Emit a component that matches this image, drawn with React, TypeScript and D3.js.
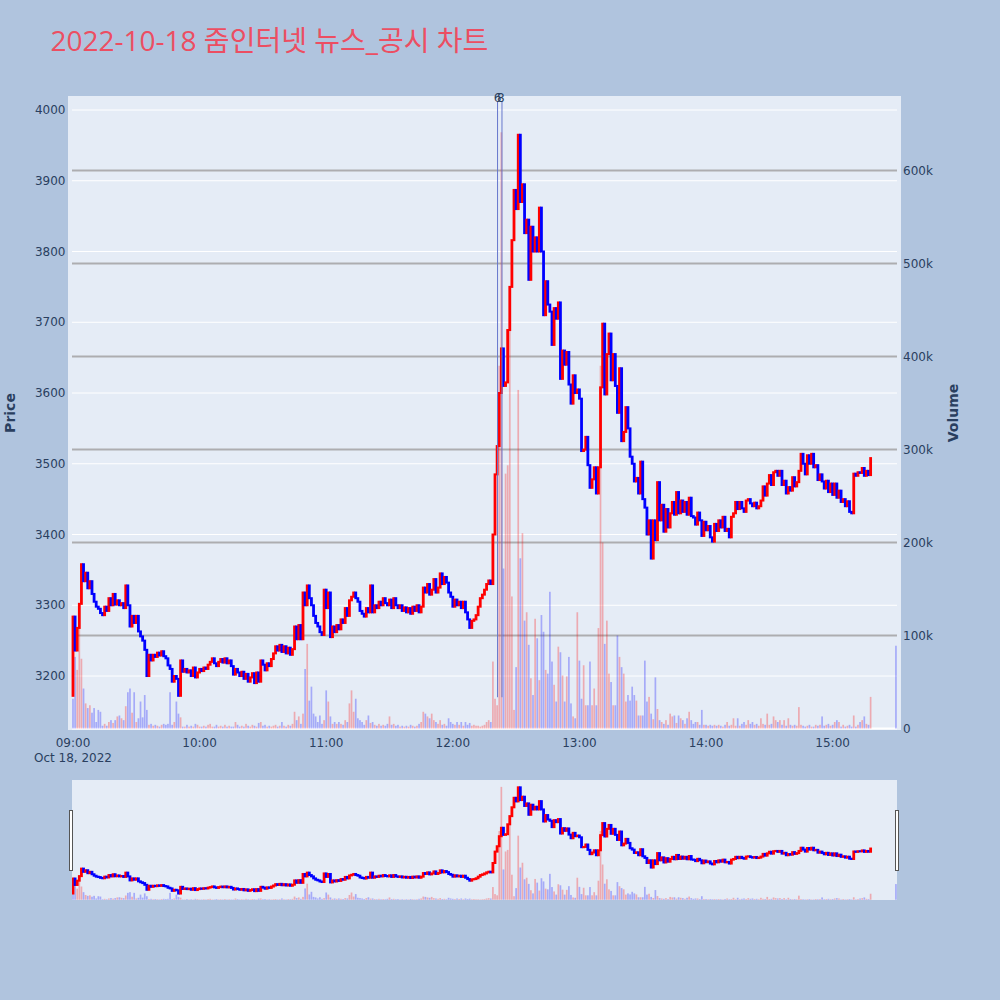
import * as d3 from 'd3';
import { useEffect, useRef } from 'react';

// 1-minute closes from 09:00 (index = minutes after 09:00); open of a candle = previous close
const openingPrice = 3172;
const previousDayClose = 3290;
const closePrices = [
  3284, 3236, 3268, 3302, 3358, 3334, 3346, 3324, 3334, 3316,
  3305, 3298, 3295, 3289, 3286, 3298, 3292, 3310, 3300, 3316,
  3301, 3307, 3300, 3303, 3296, 3328, 3300, 3270, 3285, 3275,
  3285, 3263, 3256, 3250, 3237, 3200, 3230, 3222, 3230, 3227,
  3233, 3229, 3235, 3228, 3225, 3215, 3210, 3192, 3200, 3196,
  3172, 3222, 3206, 3210, 3205, 3208, 3200, 3212, 3198, 3205,
  3210, 3207, 3212, 3210, 3216, 3220, 3225, 3218, 3214, 3220,
  3224, 3219, 3225, 3218, 3222, 3214, 3202, 3210, 3205, 3200,
  3206, 3196, 3203, 3192, 3198, 3204, 3190, 3205, 3192, 3222,
  3216, 3208, 3218, 3214, 3224, 3232, 3242, 3236, 3244, 3234,
  3242, 3232, 3240, 3230, 3238, 3270, 3252, 3272, 3252, 3318,
  3300, 3328, 3310, 3300, 3285, 3275, 3270, 3262, 3258, 3322,
  3296, 3318, 3255, 3270, 3262, 3272, 3266, 3280, 3275, 3296,
  3285, 3307, 3312, 3318, 3310, 3305, 3292, 3288, 3284, 3296,
  3290, 3328, 3290, 3300, 3296, 3305, 3300, 3310, 3303, 3300,
  3308, 3296, 3310, 3300, 3296, 3300, 3292, 3297, 3290, 3296,
  3288, 3298, 3292, 3300, 3290, 3298, 3325, 3318, 3330, 3315,
  3322, 3337, 3318, 3325, 3345, 3330, 3340, 3332, 3318, 3312,
  3298, 3308, 3300, 3305, 3296, 3305, 3290, 3280, 3268, 3278,
  3280, 3286, 3298, 3310, 3315, 3322, 3330, 3335, 3330, 3400,
  3485, 3525, 3600, 3663, 3610, 3615, 3689, 3750, 3816, 3887,
  3860, 3965, 3870, 3895, 3826, 3845, 3760, 3835, 3800, 3820,
  3800, 3862, 3800, 3710, 3758, 3725, 3715, 3668, 3720, 3705,
  3728, 3620, 3660, 3640, 3658, 3612, 3585, 3625, 3600, 3605,
  3592, 3518, 3520, 3538, 3498, 3466, 3478, 3495, 3458, 3495,
  3608, 3698, 3598, 3655, 3684, 3618, 3655, 3610, 3572, 3635,
  3532, 3545, 3580, 3550, 3510, 3500, 3475, 3480, 3458, 3503,
  3450, 3438, 3400, 3420, 3366, 3420, 3392, 3474, 3420, 3442,
  3404, 3436, 3410, 3430, 3446, 3428, 3460, 3430, 3448, 3432,
  3446, 3428, 3452, 3426, 3424, 3414, 3431, 3420, 3398, 3418,
  3406, 3412, 3396, 3390, 3415, 3405, 3420, 3410, 3425, 3405,
  3408, 3396, 3425, 3430, 3446, 3436, 3446, 3437, 3432, 3448,
  3450, 3444, 3440, 3445, 3437, 3440, 3448, 3468, 3455, 3472,
  3484, 3470, 3488, 3490, 3483, 3490, 3470, 3476, 3458, 3467,
  3462, 3481, 3468, 3474, 3490, 3514, 3500, 3485, 3512, 3500,
  3514, 3495, 3498, 3477, 3485, 3475, 3465, 3476, 3460, 3472,
  3456, 3472, 3452, 3462, 3446, 3450, 3440, 3447, 3432, 3430,
  3486, 3483, 3488, 3487, 3494, 3483, 3490, 3484, 3508,
];
// volume per minute, thousands of shares
const volumesK = [
  32, 77, 63, 108, 75, 43, 27, 22, 25, 17,
  22, 7, 20, 18, 3, 5, 3, 7, 9, 6,
  9, 13, 14, 11, 9, 24, 39, 43, 17, 39,
  7, 11, 29, 12, 36, 20, 4, 5, 3, 4,
  3, 2, 4, 5, 4, 5, 39, 4, 7, 29,
  16, 12, 2, 2, 4, 2, 3, 2, 5, 4,
  2, 2, 3, 2, 4, 5, 2, 2, 4, 2,
  3, 2, 4, 2, 3, 2, 2, 7, 4, 2,
  3, 2, 5, 3, 2, 4, 3, 2, 6, 7,
  3, 4, 2, 3, 2, 3, 4, 2, 3, 7,
  3, 2, 4, 3, 5, 18, 9, 13, 5, 16,
  64, 91, 30, 45, 16, 13, 7, 14, 5, 9,
  41, 29, 13, 5, 7, 5, 7, 5, 4, 9,
  7, 27, 41, 18, 32, 11, 9, 7, 4, 9,
  14, 6, 7, 4, 3, 5, 3, 4, 3, 5,
  13, 4, 5, 3, 4, 2, 3, 2, 3, 2,
  4, 3, 2, 3, 5, 7, 18, 16, 13, 11,
  16, 9, 7, 5, 9, 4, 5, 3, 11, 7,
  5, 4, 7, 4, 7, 3, 7, 4, 6, 3,
  4, 3, 3, 2, 3, 4, 7, 9, 7, 72,
  32, 25, 390, 641, 172, 274, 283, 441, 142, 20,
  66, 364, 183, 210, 116, 125, 90, 54, 36, 118,
  97, 52, 122, 104, 63, 59, 147, 72, 47, 29,
  88, 82, 57, 29, 56, 77, 27, 13, 11, 125,
  73, 32, 68, 25, 25, 72, 25, 43, 25, 108,
  390, 200, 91, 116, 59, 50, 25, 25, 100, 77,
  66, 59, 29, 36, 30, 45, 36, 30, 14, 14,
  14, 73, 29, 34, 16, 10, 55, 21, 9, 7,
  5, 9, 4, 16, 13, 14, 6, 14, 11, 9,
  5, 11, 18, 9, 5, 7, 7, 4, 20, 4,
  4, 3, 4, 3, 4, 3, 4, 3, 2, 4,
  7, 3, 4, 11, 3, 11, 3, 5, 7, 4,
  9, 5, 7, 4, 5, 3, 11, 5, 4, 16,
  4, 5, 13, 9, 7, 9, 4, 9, 3, 11,
  4, 3, 4, 3, 23, 4, 3, 2, 3, 4,
  2, 2, 4, 3, 4, 13, 3, 4, 5, 3,
  4, 7, 9, 7, 2, 4, 2, 3, 4, 2,
  14, 2, 4, 7, 9, 13, 5, 4, 34,
];
// 15:30 closing auction
const auctionMinute = 390;
const auctionPrice = 3496;
const auctionVolumeK = 89;

// news / disclosure markers (minutes after 09:00) and their labels
const eventMinutes = [201.2, 203.3];
const eventLabels = ['6', '8'];

const priceTicks = [3200, 3300, 3400, 3500, 3600, 3700, 3800, 3900, 4000];
const volumeTicks = [0, 100000, 200000, 300000, 400000, 500000, 600000];
const timeTickMinutes = [0, 60, 120, 180, 240, 300, 360];
const timeTickLabels = ['09:00', '10:00', '11:00', '12:00', '13:00', '14:00', '15:00'];
const dateLabel = 'Oct 18, 2022';
const titleText = '2022-10-18 줌인터넷 뉴스_공시 차트';

const UP = '#ff0000';
const DOWN = '#0000ff';
const TICK_FONT = '"DejaVu Sans", Verdana, sans-serif';
const TEXT = '#2a3f5f';

export default function App() {
  const ref = useRef<SVGSVGElement>(null);

  useEffect(() => {
    const svg = d3.select(ref.current);
    svg.selectAll('*').remove();

    const candles = closePrices.map((c, i) => ({
      minute: i,
      open: i === 0 ? openingPrice : closePrices[i - 1],
      close: c,
      prev: i === 0 ? previousDayClose : closePrices[i - 1],
      volume: volumesK[i] * 1000,
    }));
    candles.push({
      minute: auctionMinute,
      open: auctionPrice,
      close: auctionPrice,
      prev: closePrices[closePrices.length - 1],
      volume: auctionVolumeK * 1000,
    });

    const x = d3.scaleLinear().domain([-0.47, 390.5]).range([72, 897]);
    const yPrice = d3.scaleLinear().domain([3123.7, 4019.8]).range([730, 96]);
    const yVol = d3.scaleLinear().domain([-1600, 680000]).range([730, 96]);
    const sPrice = d3.scaleLinear().domain([3123.7, 4019.8]).range([900, 780]);
    const sVol = d3.scaleLinear().domain([-1600, 680000]).range([900, 780]);

    svg.append('rect').attr('width', 1000).attr('height', 1000).attr('fill', '#b0c4de');

    svg.append('text')
      .attr('x', 50.5).attr('y', 50.5)
      .attr('font-family', '"Open Sans", "Noto Sans CJK KR", sans-serif')
      .attr('font-size', 28)
      .attr('fill', '#ec4e62')
      .text(titleText);

    // main plot
    svg.append('rect').attr('x', 68).attr('y', 96).attr('width', 833).attr('height', 634).attr('fill', '#e5ecf6');

    const grid = svg.append('g');
    grid.selectAll('.pgrid').data(priceTicks).join('line')
      .attr('x1', 72).attr('x2', 897)
      .attr('y1', (d) => yPrice(d)).attr('y2', (d) => yPrice(d))
      .attr('stroke', '#ffffff').attr('stroke-width', 1);
    grid.selectAll('.vgrid').data(volumeTicks).join('line')
      .attr('x1', 72).attr('x2', 897)
      .attr('y1', (d) => yVol(d)).attr('y2', (d) => yVol(d))
      .attr('stroke', (d) => (d === 0 ? '#ffffff' : '#adadb0'))
      .attr('stroke-width', 2);

    const drawSeries = (g: any, yP: any, yV: any) => {
      g.selectAll('rect.vol').data(candles).join('rect')
        .attr('class', 'vol')
        .attr('x', (d: any) => x(d.minute) - 0.85)
        .attr('width', 1.7)
        .attr('y', (d: any) => yV(d.volume))
        .attr('height', (d: any) => yV(0) - yV(d.volume))
        .attr('fill', (d: any) => (d.close >= d.prev ? UP : DOWN))
        .attr('fill-opacity', 0.28);
      g.selectAll('rect.candle').data(candles).join('rect')
        .attr('class', 'candle')
        .attr('x', (d: any) => x(d.minute) - 0.4)
        .attr('width', 0.8)
        .attr('y', (d: any) => yP(Math.max(d.open, d.close)))
        .attr('height', (d: any) => Math.abs(yP(d.open) - yP(d.close)))
        .attr('fill', (d: any) => (d.close >= d.open ? UP : DOWN))
        .attr('stroke', (d: any) => (d.close >= d.open ? UP : DOWN))
        .attr('stroke-width', 2);
    };

    drawSeries(svg.append('g'), yPrice, yVol);

    // event markers
    const ev = svg.append('g');
    ev.selectAll('line').data(eventMinutes).join('line')
      .attr('x1', (d) => x(d)).attr('x2', (d) => x(d))
      .attr('y1', 102).attr('y2', yPrice(3170))
      .attr('stroke', '#6677cc').attr('stroke-width', 1);
    ev.selectAll('text').data(eventMinutes).join('text')
      .attr('x', (d, i) => x(d) - i * 1.2)
      .attr('y', 101.5)
      .attr('text-anchor', 'middle')
      .attr('font-family', TICK_FONT).attr('font-size', 12).attr('fill', TEXT)
      .text((d, i) => eventLabels[i]);

    // axes labels
    const tickText = (sel: any) => sel.attr('font-family', TICK_FONT).attr('font-size', 12).attr('fill', TEXT);
    svg.append('g').selectAll('text').data(priceTicks).join('text')
      .attr('x', 65.5).attr('y', (d) => yPrice(d) + 4.2)
      .attr('text-anchor', 'end')
      .call(tickText)
      .text((d) => String(d));
    svg.append('g').selectAll('text').data(volumeTicks).join('text')
      .attr('x', 903).attr('y', (d) => yVol(d) + 4.2)
      .attr('text-anchor', 'start')
      .call(tickText)
      .text((d) => d3.format('~s')(d));
    svg.append('g').selectAll('text').data(timeTickMinutes).join('text')
      .attr('x', (d) => x(d)).attr('y', 747)
      .attr('text-anchor', 'middle')
      .call(tickText)
      .text((d, i) => timeTickLabels[i]);
    svg.append('text')
      .attr('x', x(0)).attr('y', 762)
      .attr('text-anchor', 'middle')
      .call(tickText)
      .text(dateLabel);

    svg.append('text')
      .attr('transform', 'translate(15,413) rotate(-90)')
      .attr('text-anchor', 'middle')
      .attr('font-family', TICK_FONT).attr('font-size', 14).attr('font-weight', 'bold').attr('fill', TEXT)
      .text('Price');
    svg.append('text')
      .attr('transform', 'translate(958,413) rotate(-90)')
      .attr('text-anchor', 'middle')
      .attr('font-family', TICK_FONT).attr('font-size', 14).attr('font-weight', 'bold').attr('fill', TEXT)
      .text('Volume');

    // range slider
    svg.append('clipPath').attr('id', 'slider-clip')
      .append('rect').attr('x', 72).attr('y', 780).attr('width', 825).attr('height', 120);
    svg.append('rect').attr('x', 72).attr('y', 780).attr('width', 825).attr('height', 120).attr('fill', '#e5ecf6');
    drawSeries(svg.append('g').attr('clip-path', 'url(#slider-clip)'), sPrice, sVol);
    svg.append('g').selectAll('rect').data([69.5, 895.5]).join('rect')
      .attr('x', (d) => d).attr('y', 810.5).attr('width', 3).attr('height', 60)
      .attr('fill', '#ffffff').attr('stroke', '#555555').attr('stroke-width', 1);
  }, []);

  return (
    <svg
      ref={ref}
      width={1000}
      height={1000}
      style={{ position: 'absolute', left: 0, top: 0, display: 'block' }}
    />
  );
}
